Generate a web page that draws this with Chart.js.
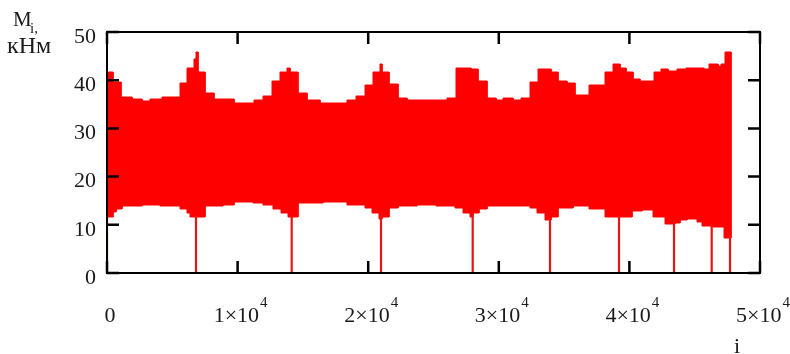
<!DOCTYPE html>
<html>
<head>
<meta charset="utf-8">
<script src="https://cdn.jsdelivr.net/npm/chart.js@4/dist/chart.umd.min.js"></script>
<style>
  html, body { margin: 0; padding: 0; background: #fff; }
  #wrap { position: relative; width: 790px; height: 354px; overflow: hidden; }
  canvas { position: absolute; left: 0; top: 0; }
  .lbl { position: absolute; font-family: "Liberation Serif", "Times New Roman", serif; color: #1a1a1a; white-space: nowrap; }
</style>
</head>
<body>
<div id="wrap">
  <canvas id="c" width="790" height="354"></canvas>
  <div class="lbl" style="left:13px; top:9px; font-size:21px; line-height:21px;">M</div>
  <div class="lbl" style="left:30px; top:21px; font-size:15px; line-height:15px;">i,</div>
  <div class="lbl" style="left:7px; top:33px; font-size:24px; line-height:24px;">кНм</div>
  <div class="lbl" style="left:734px; top:335px; font-size:22px; line-height:22px;">i</div>
</div>
<script>
// ---- data ----
const xTicks = [0, 10000, 20000, 30000, 40000, 50000];
const xTickBase = ['0', '1×10', '2×10', '3×10', '4×10', '5×10'];
const xTickExp = ['', '4', '4', '4', '4', '4'];
const yTicks = [0, 10, 20, 30, 40, 50];

// upper envelope of M_i (step values, each holds until next x)
const upperX = [0, 436, 1049, 1891, 2657, 3293, 4188, 5590, 6148, 6684,
  6815, 6945, 7504, 8193, 9724, 11256, 11968, 12611, 13247, 13806,
  14012, 14648, 15291, 16309, 18354, 19066, 19755, 20345, 20904, 21057,
  21616, 22305, 22948, 26057, 26700, 27336, 27849, 28431, 29120, 29763,
  30345, 31111, 31700, 32389, 33025, 33974, 34556, 35199, 35835, 36930,
  38132, 38722, 39281, 39740, 40253, 40812, 41884, 42397, 42979, 43668,
  44334, 45712, 46095, 46807, 46991, 47320, 47760];
const upperY = [41.8, 39.6, 36.6, 36.0, 35.7, 36.0, 36.6, 39.4, 42.5, 44.3,
  45.8, 41.8, 37.4, 36.0, 35.2, 35.9, 36.7, 39.9, 41.8, 42.6,
  41.8, 37.4, 35.9, 35.2, 35.9, 36.7, 39.0, 41.8, 43.3, 41.8,
  39.2, 36.4, 35.9, 36.4, 42.6, 42.5, 42.3, 39.9, 36.4, 35.9,
  36.4, 35.9, 36.4, 39.7, 42.3, 41.8, 39.9, 39.4, 36.9, 39.0,
  41.8, 43.3, 42.6, 41.8, 40.2, 39.9, 41.8, 42.3, 41.9, 42.3,
  42.6, 42.3, 43.3, 43.0, 43.3, 45.9, 45.9];

// lower envelope of M_i
const lowerX = [0, 436, 689, 1126, 2657, 4058, 5590, 6148, 6355, 6915,
  7504, 8270, 8859, 9724, 11202, 11968, 12688, 13300, 13882, 14242,
  14648, 16562, 18354, 19755, 20268, 20850, 21034, 21616, 22305, 23714,
  25192, 26647, 27283, 27795, 28048, 28508, 29074, 29840, 32389, 32902,
  33538, 33974, 34556, 35704, 36930, 38132, 39281, 40177, 40943, 41831,
  42727, 43491, 43874, 44387, 45153, 45536, 46378, 47244, 47760];
const lowerY = [11.6, 12.7, 13.3, 13.8, 14.1, 14.0, 13.3, 12.4, 11.6, 11.6,
  13.8, 14.0, 14.1, 14.8, 14.5, 14.1, 13.3, 12.4, 11.6, 11.6,
  14.5, 14.8, 14.1, 13.5, 12.4, 11.3, 11.6, 13.5, 14.0, 14.1,
  13.8, 13.5, 12.4, 11.6, 12.4, 13.3, 13.8, 14.0, 13.5, 12.4,
  11.0, 11.6, 13.4, 13.8, 13.3, 11.6, 11.6, 12.9, 13.0, 11.6,
  10.1, 10.3, 11.0, 11.2, 10.6, 9.8, 9.6, 7.2, 7.2];

// downward spikes to zero
const spikeX = [0, 6815, 14142, 20980, 28002, 33920, 39204, 43415, 46302, 47703];
const spikeBottom = [0, 0, 0, 0, 0, 0, 0, 0, 0, 0];
const spikeTop = [12, 12, 12, 12, 12, 11, 12, 11, 10, 8];

// ---- build chart ----
// closed outline of the band: upper steps left→right, then lower steps right→left
const bandPts = [];
bandPts.push({ x: upperX[0], y: upperY[0] });
for (let i = 1; i < upperX.length; i++) {
  bandPts.push({ x: upperX[i], y: upperY[i - 1] });
  bandPts.push({ x: upperX[i], y: upperY[i] });
}
const N = lowerX.length - 1;
bandPts.push({ x: lowerX[N], y: lowerY[N] });
for (let i = N - 1; i >= 0; i--) {
  bandPts.push({ x: lowerX[i + 1], y: lowerY[i] });
  bandPts.push({ x: lowerX[i], y: lowerY[i] });
}

const spikePts = [];
spikeX.forEach((x, i) => {
  spikePts.push({ x, y: spikeBottom[i] }, { x, y: spikeTop[i] }, { x, y: null });
});

const RED = 'rgb(255,0,0)';
const FONT = '"Liberation Serif", "Times New Roman", serif';

// snap the band outline to whole pixels so the filled polygon has crisp edges
const snapPlugin = {
  id: 'snap',
  beforeDatasetsDraw(chart) {
    [0, 1].forEach(k => chart.getDatasetMeta(k).data.forEach(p => { p.x = Math.round(p.x); p.y = Math.round(p.y); }));
  }
};

const framePlugin = {
  id: 'frame',
  afterDatasetsDraw(chart) {
    const { ctx, chartArea: a, scales } = chart;
    const xs = scales.x, ys = scales.y;
    ctx.save();
    ctx.strokeStyle = '#000';
    ctx.lineWidth = 2;
    ctx.strokeRect(a.left, a.top, a.right - a.left, a.bottom - a.top);
    ctx.lineWidth = 2.5;
    const L = 12;
    ctx.beginPath();
    xs.ticks.forEach(t => {
      const px = xs.getPixelForValue(t.value);
      ctx.moveTo(px, a.bottom); ctx.lineTo(px, a.bottom - L);
      ctx.moveTo(px, a.top); ctx.lineTo(px, a.top + L);
    });
    ys.ticks.forEach(t => {
      const py = ys.getPixelForValue(t.value);
      ctx.moveTo(a.left, py); ctx.lineTo(a.left + L, py);
      ctx.moveTo(a.right, py); ctx.lineTo(a.right - L, py);
    });
    ctx.stroke();
    ctx.restore();
  },
  afterDraw(chart) {
    const { ctx, chartArea: a, scales } = chart;
    const xs = scales.x;
    ctx.save();
    ctx.fillStyle = '#1a1a1a';
    ctx.textBaseline = 'alphabetic';
    ctx.textAlign = 'left';
    const baseY = a.bottom + 49;
    xs.ticks.forEach((t, i) => {
      const px = xs.getPixelForValue(t.value);
      ctx.font = '22px ' + FONT;
      const wb = ctx.measureText(xTickBase[i]).width;
      ctx.font = '15px ' + FONT;
      const we = xTickExp[i] ? ctx.measureText(xTickExp[i]).width + 1 : 0;
      const x0 = px + 3 - (wb + we) / 2;
      ctx.font = '22px ' + FONT;
      ctx.fillText(xTickBase[i], x0, baseY);
      if (xTickExp[i]) {
        ctx.font = '15px ' + FONT;
        ctx.fillText(xTickExp[i], x0 + wb + 1, baseY - 15);
      }
    });
    ctx.restore();
  }
};

Chart.defaults.font.family = FONT;
Chart.defaults.font.size = 22;
Chart.defaults.color = '#1a1a1a';

new Chart(document.getElementById('c'), {
  type: 'line',
  data: {
    datasets: [
      { data: bandPts, borderWidth: 1, borderColor: RED, backgroundColor: RED, pointRadius: 0, fill: 'shape', tension: 0, order: 4 },
      { data: bandPts, borderWidth: 0, backgroundColor: RED, pointRadius: 0, fill: 'shape', tension: 0, order: 3 },
      { data: spikePts, borderColor: 'rgb(235,20,20)', borderWidth: 2.2, pointRadius: 0, fill: false, spanGaps: false, order: 0 }
    ]
  },
  options: {
    responsive: false,
    animation: false,
    devicePixelRatio: 1,
    layout: { padding: { left: 0, right: 30, top: 32, bottom: 0 } },
    plugins: { legend: { display: false }, tooltip: { enabled: false } },
    scales: {
      x: {
        type: 'linear', min: 0, max: 50000,
        grid: { display: false, drawTicks: false },
        border: { display: false },
        afterBuildTicks: s => { s.ticks = xTicks.map(v => ({ value: v })); },
        afterFit: s => { s.height = 81; },
        ticks: { display: false }
      },
      y: {
        type: 'linear', min: 0, max: 50,
        grid: { display: false, drawTicks: false },
        border: { display: false },
        afterBuildTicks: s => { s.ticks = yTicks.map(v => ({ value: v })); },
        afterFit: s => { s.width = 107; },
        ticks: { padding: 11, labelOffset: 5 }
      }
    }
  },
  plugins: [snapPlugin, framePlugin]
});
</script>
</body>
</html>
